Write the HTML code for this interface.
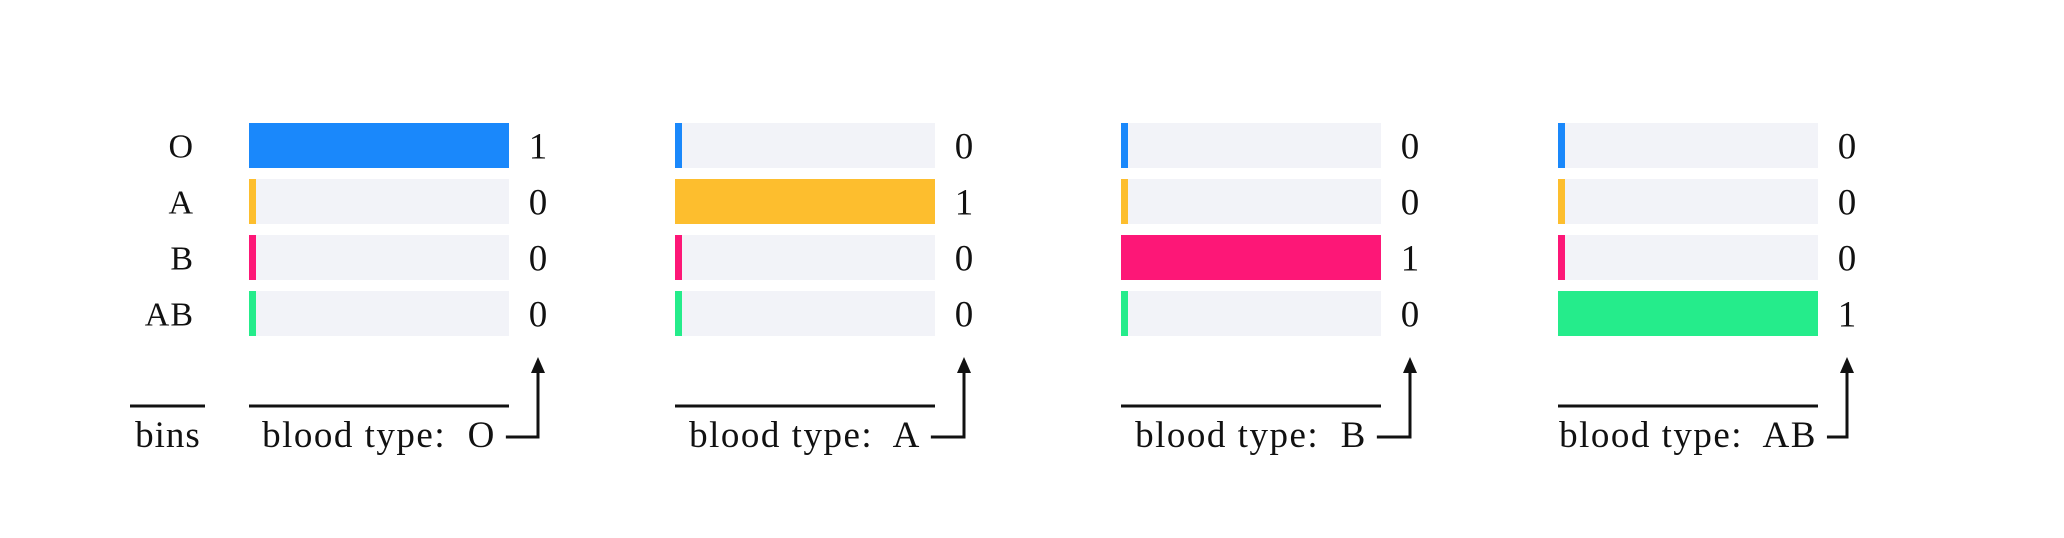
<!DOCTYPE html>
<html><head><meta charset="utf-8"><style>
html,body{margin:0;padding:0;background:#fff;}
svg{display:block;}
text{font-family:"Liberation Serif","DejaVu Serif",serif;fill:#111;}
</style></head><body>
<svg id="chart" width="2064" height="538" viewBox="0 0 2064 538" xmlns="http://www.w3.org/2000/svg"></svg>
<script>
const bins = ["O","A","B","AB"];
const binColors = ["#1a88fb","#fdbe2e","#fd1777","#25ec8b"];
const panelTypes = ["O","A","B","AB"];
const countsO = [1,0,0,0];
const countsA = [0,1,0,0];
const countsB = [0,0,1,0];
const countsAB = [0,0,0,1];
const panelCounts = [countsO, countsA, countsB, countsAB];
const maxCount = 1;

const NS = "http://www.w3.org/2000/svg";
const svg = document.getElementById("chart");
function mk(tag, attrs){const e=document.createElementNS(NS,tag);for(const k in attrs)e.setAttribute(k,attrs[k]);svg.appendChild(e);return e;}

const panelX = [249, 675, 1121, 1558];
const barW = 260, barH = 45, rowTop = 123, rowPitch = 56, stubW = 7;
const baseY = 406;
function xScale(v){ return v / maxCount * barW; }
function yRow(i){ return rowTop + i * rowPitch; }

bins.forEach((b,i)=>{
  const t = mk("text",{x:194,y:yRow(i)+barH/2+12,"text-anchor":"end","font-size":34,"letter-spacing":1});
  t.textContent = b;
  
  
});
let l = mk("line",{x1:130,x2:205,y1:baseY,y2:baseY,stroke:"#111","stroke-width":3});


let bt = mk("text",{x:168,y:447,"text-anchor":"middle","font-size":37,"letter-spacing":1});
bt.textContent = "bins";



panelCounts.forEach((counts,p)=>{
  const x0 = panelX[p];
  counts.forEach((v,i)=>{
    const y = yRow(i);
    const bg = mk("rect",{x:x0,y:y,width:barW,height:barH,fill:"#f2f3f8"});
    
    
    const w = Math.max(stubW, xScale(v));
    const r = mk("rect",{x:x0,y:y,width:w,height:barH,fill:binColors[i]});
    
    
    const vt = mk("text",{x:x0+barW+29,y:y+barH/2+13,"text-anchor":"middle","font-size":37});
    vt.textContent = String(v);
    
    
  });
  const bl = mk("line",{x1:x0,x2:x0+barW,y1:baseY,y2:baseY,stroke:"#111","stroke-width":3});
  
  
  const tt = mk("text",{x:x0+barW/2,y:447,"text-anchor":"middle","font-size":37,"letter-spacing":1.5});
  tt.textContent = "blood type:\u00a0 " + panelTypes[p];
  
  
  const ax = x0 + barW + 29;
  const tw = tt.getComputedTextLength ? tt.getComputedTextLength() : 230;
  const hx = Math.min(x0 + barW/2 + tw/2 + 10, ax - 14);
  const ar = mk("polyline",{points:`${hx},437 ${ax},437 ${ax},368`,fill:"none",stroke:"#111","stroke-width":3});
  
  
  const ah = mk("polygon",{points:`${ax-7},373 ${ax+7},373 ${ax},357`,fill:"#111"});
  
  
});
</script>
</body></html>
